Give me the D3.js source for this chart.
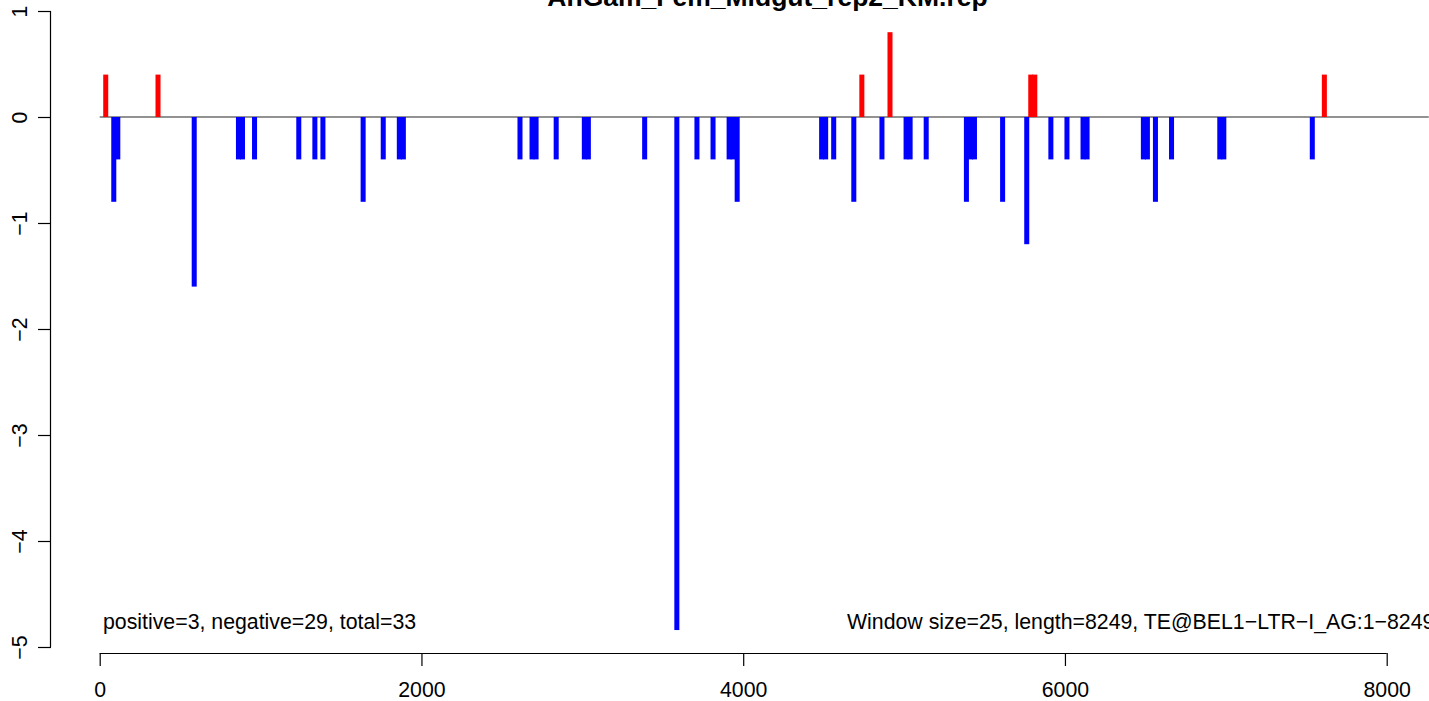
<!DOCTYPE html>
<html>
<head>
<meta charset="utf-8">
<script src="https://cdn.jsdelivr.net/npm/d3@7"></script>
<style>
  html, body { margin: 0; padding: 0; background: #fff; overflow: hidden; }
  svg { display: block; font-family: "Liberation Sans", Arial, Helvetica, sans-serif; }
</style>
</head>
<body>
<svg id="chart" width="1429" height="701"></svg>
<script>
// ---- data ----
const title = "AnGam_Fem_Midgut_rep2_KM.rep";
const windowSize = 25;
const seqLength = 8249;
// window start positions (bp)
const binStarts = [25, 75, 100, 350, 575, 850, 875, 950, 1225, 1325, 1375, 1625, 1750, 1850, 1875,
  2600, 2675, 2700, 2825, 3000, 3025, 3375, 3575, 3700, 3800, 3900, 3925, 3950,
  4475, 4500, 4550, 4675, 4725, 4850, 4900, 5000, 5025, 5125, 5375, 5400, 5425,
  5600, 5750, 5775, 5800, 5900, 6000, 6100, 6125, 6475, 6500, 6550, 6650, 6950, 6975, 7525, 7600];
const binValues = [0.4, -0.8, -0.4, 0.4, -1.6, -0.4, -0.4, -0.4, -0.4, -0.4, -0.4, -0.8, -0.4, -0.4, -0.4,
  -0.4, -0.4, -0.4, -0.4, -0.4, -0.4, -0.4, -4.84, -0.4, -0.4, -0.4, -0.4, -0.8,
  -0.4, -0.4, -0.4, -0.8, 0.4, -0.4, 0.8, -0.4, -0.4, -0.4, -0.8, -0.4, -0.4,
  -0.8, -1.2, 0.4, 0.4, -0.4, -0.4, -0.4, -0.4, -0.4, -0.4, -0.8, -0.4, -0.4, -0.4, -0.4, 0.4];
const xTicks = [0, 2000, 4000, 6000, 8000];
const yTicks = [-5, -4, -3, -2, -1, 0, 1];
const leftNote = "positive=3, negative=29, total=33";
const rightNote = "Window size=25, length=8249, TE@BEL1\u2212LTR\u2212I_AG:1\u22128249";

// ---- drawing ----
const svg = d3.select("#chart");
const x = d3.scaleLinear().domain([0, 8000]).range([99.7, 1386.7]);
const y = d3.scaleLinear().domain([-5, 1]).range([647, 11]);
const fmtMinus = v => (v < 0 ? "\u2212" + Math.abs(v) : String(v));
const fontSize = 21.3;

// zero line
svg.append("line")
  .attr("x1", x(0)).attr("x2", x(seqLength) + 2)
  .attr("y1", y(0)).attr("y2", y(0))
  .attr("stroke", "#6e6e6e").attr("stroke-width", 1.5);

// bars
const bars = binStarts.map((s, i) => ({ s, v: binValues[i] }));
svg.append("g").selectAll("rect").data(bars).join("rect")
  .attr("x", d => x(d.s) - 0.5)
  .attr("width", d => x(d.s + windowSize) - x(d.s) + 1)
  .attr("y", d => Math.min(y(d.v), y(0)))
  .attr("height", d => Math.abs(y(d.v) - y(0)))
  .attr("fill", d => d.v > 0 ? "#ff0000" : "#0000ff");

// x axis
const xAxis = d3.axisBottom(x).tickValues(xTicks).tickSize(13).tickPadding(16).tickFormat(d3.format("d"));
const gx = svg.append("g").attr("transform", "translate(0,653)").call(xAxis);
gx.select(".domain").attr("d", `M${x(0)},0.5H${x(8000)}`).attr("stroke", "#000").attr("stroke-width", 1.2);
gx.selectAll(".tick line").attr("stroke", "#000").attr("stroke-width", 1.2);
gx.selectAll(".tick text").attr("font-size", fontSize).attr("fill", "#000").attr("font-family", "Liberation Sans, Arial, sans-serif");

// y axis
const yAxis = d3.axisLeft(y).tickValues(yTicks).tickSize(13).tickFormat(fmtMinus);
const gy = svg.append("g").attr("transform", "translate(51,0)").call(yAxis);
gy.select(".domain").attr("d", `M-0.5,${y(-5)}V${y(1)}`).attr("stroke", "#000").attr("stroke-width", 1.2);
gy.selectAll(".tick line").attr("stroke", "#000").attr("stroke-width", 1.2);
gy.selectAll(".tick text")
  .attr("font-size", fontSize).attr("fill", "#000").attr("font-family", "Liberation Sans, Arial, sans-serif")
  .attr("text-anchor", "middle").attr("dy", null).attr("x", null)
  .attr("transform", "translate(-24,0) rotate(-90)");

// title
svg.append("text")
  .attr("x", 767.5).attr("y", 6)
  .attr("text-anchor", "middle")
  .attr("font-weight", "bold").attr("font-size", 26.5)
  .text(title);

// notes
svg.append("text").attr("x", 103).attr("y", 629).attr("font-size", fontSize).text(leftNote);
svg.append("text").attr("x", 847).attr("y", 629).attr("font-size", fontSize).text(rightNote);
</script>
</body>
</html>
